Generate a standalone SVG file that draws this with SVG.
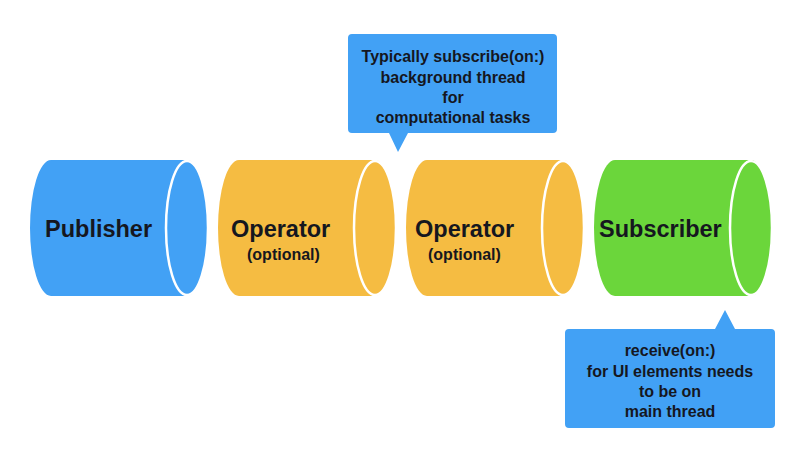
<svg xmlns="http://www.w3.org/2000/svg" width="811" height="475" viewBox="0 0 811 475">
<style>
.lbl{font-family:"Liberation Sans",Arial,Helvetica,sans-serif;font-weight:bold;fill:#15171f}
.big{font-size:23.5px}
.small{font-size:16px}
.note{font-size:16px;text-anchor:middle}
.cap{stroke:#ffffff;stroke-width:2.5}
.blue{fill:#42a1f5}
.orange{fill:#f5bc42}
.green{fill:#6bd63b}
</style>
<rect width="811" height="475" fill="#ffffff"/>
<g id="publisher">
<path class="blue" d="M51,160 L187,160 A21,68 0 0 1 187,296 L51,296 A21,68 0 0 1 51,160 Z"/>
<ellipse class="blue cap" cx="187" cy="228" rx="21" ry="67"/>
<text class="lbl big" x="45" y="237">Publisher</text>
</g>
<g id="operator1">
<path class="orange" d="M239,160 L375,160 A21,68 0 0 1 375,296 L239,296 A21,68 0 0 1 239,160 Z"/>
<ellipse class="orange cap" cx="375" cy="228" rx="21" ry="67"/>
<text class="lbl big" x="231" y="237">Operator</text>
<text class="lbl small" x="247" y="260">(optional)</text>
</g>
<g id="operator2">
<path class="orange" d="M427,160 L563,160 A21,68 0 0 1 563,296 L427,296 A21,68 0 0 1 427,160 Z"/>
<ellipse class="orange cap" cx="563" cy="228" rx="21" ry="67"/>
<text class="lbl big" x="415" y="237">Operator</text>
<text class="lbl small" x="428" y="260">(optional)</text>
</g>
<g id="subscriber">
<path class="green" d="M615,160 L751,160 A21,68 0 0 1 751,296 L615,296 A21,68 0 0 1 615,160 Z"/>
<ellipse class="green cap" cx="751" cy="228" rx="21" ry="67"/>
<text class="lbl big" x="599" y="237">Subscriber</text>
</g>
<g id="callout-subscribe">
<path class="blue" d="M352,34 L553,34 Q557,34 557,38 L557,129 Q557,133 553,133 L408,133 L398,152 L389,133 L352,133 Q348,133 348,129 L348,38 Q348,34 352,34 Z"/>
<text class="lbl note" x="453" y="62">Typically subscribe(on:)</text>
<text class="lbl note" x="453" y="82.5">background thread</text>
<text class="lbl note" x="453" y="103">for</text>
<text class="lbl note" x="453" y="123">computational tasks</text>
</g>
<g id="callout-receive">
<path class="blue" d="M569,329 L715,329 L725,310 L735,329 L771,329 Q775,329 775,333 L775,424 Q775,428 771,428 L569,428 Q565,428 565,424 L565,333 Q565,329 569,329 Z"/>
<text class="lbl note" x="670" y="356">receive(on:)</text>
<text class="lbl note" x="670" y="376.5">for UI elements needs</text>
<text class="lbl note" x="670" y="397">to be on</text>
<text class="lbl note" x="670" y="417">main thread</text>
</g>
<g id="connectors"></g>
</svg>
